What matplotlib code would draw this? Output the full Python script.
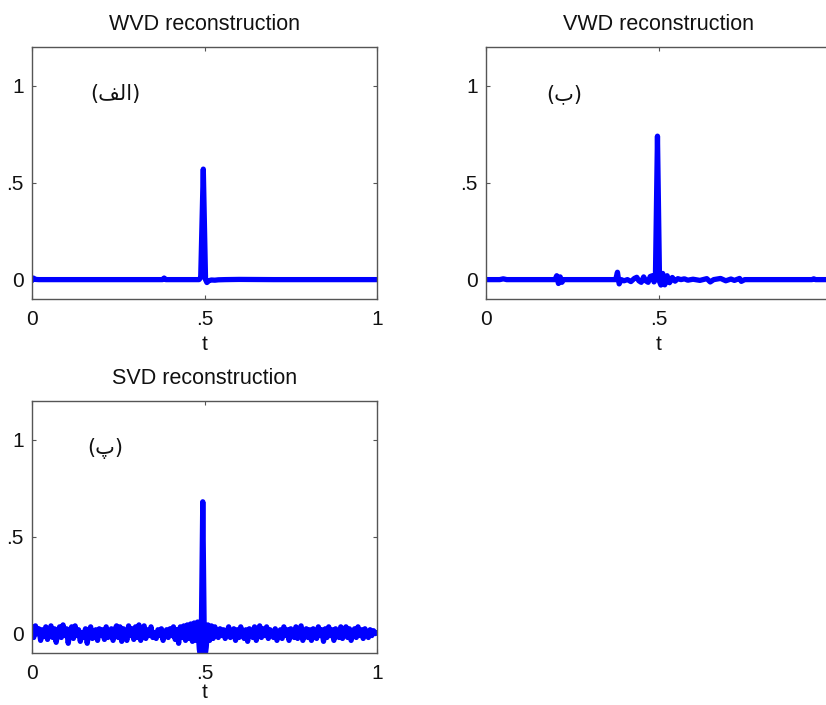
import numpy as np
import matplotlib
matplotlib.use("Agg")
import matplotlib.pyplot as plt

# ---------------- data ----------------
titles = ["WVD reconstruction", "VWD reconstruction", "SVD reconstruction"]
# Persian panel labels (presentation forms, visual order)
panel_labels = ["(\uFED2\uFEDF\uFE8D)", "(\uFE8F)", "(\uFB56)"]

tick_vals = [0, 0.5, 1]
tick_labels = ["0", ".5", "1"]

wvd_t = [0.0, 0.004, 0.01, 0.02, 0.1, 0.2, 0.3, 0.378, 0.383, 0.388, 0.45,
         0.484, 0.489, 0.4965, 0.503, 0.507, 0.512, 0.52, 0.53, 0.54, 0.56,
         0.6, 0.7, 0.8, 0.9, 1.0]
wvd_y = [-0.005, 0.008, 0.001, 0.0, 0.0, 0.0, 0.0, 0.0, 0.008, 0.0, 0.0,
         0.0, 0.01, 0.57, 0.0, -0.015, -0.006, -0.002, -0.003, -0.001, 0.0,
         0.001, 0.0, 0.0, 0.0, 0.0]

vwd_t = [0.0, 0.04, 0.05, 0.06, 0.2, 0.205, 0.21, 0.215, 0.22, 0.225, 0.3,
         0.376, 0.381, 0.386, 0.392, 0.40, 0.41, 0.42, 0.43, 0.437, 0.443,
         0.45, 0.457, 0.463, 0.47, 0.476, 0.482, 0.487, 0.491, 0.497, 0.503,
         0.507, 0.512, 0.518, 0.525, 0.532, 0.54, 0.548, 0.556, 0.565, 0.575,
         0.585, 0.6, 0.62, 0.64, 0.65, 0.66, 0.68, 0.695, 0.71, 0.72, 0.735,
         0.74, 0.75, 0.8, 0.9, 0.945, 0.95, 0.955, 1.0]
vwd_y = [0.0, 0.0, 0.004, 0.0, 0.0, 0.02, -0.02, 0.014, -0.014, 0.0, 0.0,
         0.0, 0.038, -0.022, 0.0, -0.006, 0.0, -0.01, 0.006, 0.012, -0.006,
         -0.014, 0.014, -0.006, -0.014, 0.016, 0.02, -0.012, 0.0, 0.74, -0.01,
         -0.028, 0.032, -0.027, 0.02, -0.016, 0.011, -0.008, 0.005, 0.0, 0.004,
         -0.003, 0.002, -0.004, 0.005, -0.012, 0.0, 0.006, -0.006, 0.003, -0.004, 0.006,
         -0.009, 0.0, 0.0, 0.0, 0.0, 0.004, 0.0, 0.0]

svd_t = np.linspace(0, 1, 201)
svd_y = [
    0.035, -0.02, 0.04, 0.0, 0.025, -0.035, 0.02, -0.015, 0.035, -0.03,
    0.015, 0.04, -0.02, 0.025, -0.045, 0.005, 0.035, -0.02, 0.045, -0.01,
    0.025, -0.05, 0.015, 0.035, -0.025, 0.04, -0.01, 0.02, -0.04, 0.005,
    -0.02, 0.025, -0.05, 0.005, 0.035, -0.025, 0.0, 0.02, -0.035, 0.025,
    -0.01, 0.02, -0.03, 0.035, -0.02, 0.0, 0.025, -0.035, 0.02, 0.04,
    -0.02, 0.035, -0.04, 0.025, 0.0, -0.035, 0.04, -0.01, 0.025, -0.03,
    0.035, -0.02, 0.045, -0.035, 0.02, 0.04, -0.025, 0.02, -0.01, 0.035,
    -0.02, 0.005, -0.025, 0.02, -0.01, 0.025, -0.035, 0.0, 0.02, -0.02,
    0.025, -0.01, 0.035, -0.03, 0.02, -0.05, 0.035, -0.02, 0.04, -0.035,
    0.045, -0.025, 0.05, -0.04, 0.055, -0.035, 0.06, -0.08, -0.14, 0.68,
    -0.14, -0.07, 0.045, -0.035, 0.04, -0.025, 0.035, 0.0, -0.02, 0.025,
    -0.01, 0.02, -0.025, 0.005, 0.035, -0.02, 0.0, 0.025, -0.035, 0.02,
    -0.02, 0.035, 0.0, -0.025, 0.02, -0.04, 0.025, 0.005, -0.02, 0.035,
    -0.035, 0.02, 0.04, -0.02, 0.025, -0.01, 0.035, -0.025, 0.02, 0.0,
    -0.02, 0.025, -0.035, 0.005, 0.02, -0.025, 0.035, -0.01, 0.02, -0.035,
    0.025, 0.0, -0.02, 0.035, -0.025, 0.02, 0.04, -0.035, 0.005, 0.025,
    -0.02, 0.02, -0.035, 0.025, 0.0, -0.025, 0.035, -0.01, 0.02, -0.04,
    0.025, -0.02, 0.035, -0.01, 0.02, -0.035, 0.025, 0.005, -0.02, 0.035,
    -0.025, 0.02, 0.035, -0.02, 0.025, -0.035, 0.005, 0.025, -0.02, 0.035,
    -0.01, 0.02, -0.025, 0.025, 0.0, -0.02, 0.02, -0.01, 0.015, 0.0,
    0.005,
]

series = [(wvd_t, wvd_y), (vwd_t, vwd_y), (svd_t, svd_y)]
label_pos = [(0.243, 0.955), (0.228, 0.955), (0.212, 0.955)]

# ---------------- figure ----------------
W, H = 826, 705
fig = plt.figure(figsize=(W / 100, H / 100), dpi=100)
fig.patch.set_facecolor("white")

def box(l, t, w, h):
    return [l / W, 1 - (t + h) / H, w / W, h / H]

rects = [box(32, 47, 345, 252), box(486, 47, 345, 252), box(32, 401, 345, 252)]

font = ["Liberation Sans", "DejaVu Sans"]
spine_col = "#555555"

for i, r in enumerate(rects):
    ax = fig.add_axes(r)
    t, y = series[i]
    ax.plot(t, y, color=(0, 0, 1), lw=3.8, solid_joinstyle="round",
            solid_capstyle="round")
    ax.set_xlim(0, 1)
    ax.set_ylim(-0.1, 1.2)
    ax.set_xticks(tick_vals)
    xl = list(tick_labels)
    if i == 1:
        xl[-1] = ""  # falls outside the visible canvas in the reference
    ax.set_xticklabels(xl, family=font, fontsize=15)
    ax.set_yticks(tick_vals)
    ax.set_yticklabels(tick_labels, family=font, fontsize=15)
    ax.tick_params(direction="in", top=True, right=True, length=3,
                   width=0.8, color=spine_col, labelcolor="#111111")
    ax.tick_params(axis="x", pad=8)
    ax.tick_params(axis="y", pad=6)
    for s in ax.spines.values():
        s.set_color(spine_col)
        s.set_linewidth(1.0)
    ax.set_xlabel("t", family=font, fontsize=15,
                  labelpad=(4 if i < 2 else 0), color="#111111")
    ax.set_title(titles[i], family=font, fontsize=15.5, pad=12, color="#111111")
    lx, ly = label_pos[i]
    ax.text(lx, ly, panel_labels[i], family=["DejaVu Sans"], fontsize=15,
            ha="center", va="center", color="#111111")

fig.savefig("out.png", dpi=100, facecolor="white")
